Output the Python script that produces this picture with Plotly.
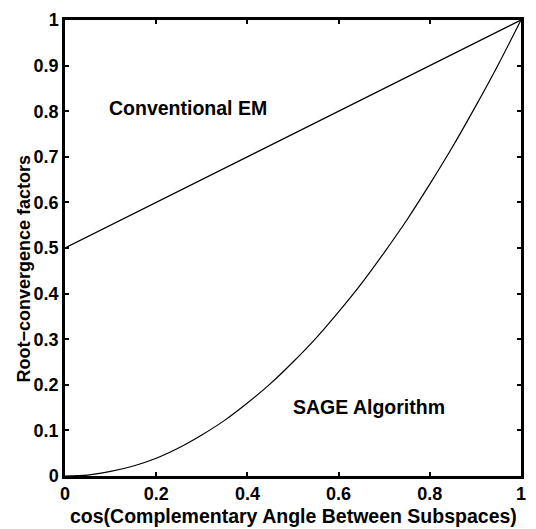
import plotly.graph_objects as go

# Conventional EM (straight line)
em_x = [0.0, 1.0]
em_y = [0.5, 1.0]

# SAGE algorithm
sage_x = [0, 0.05, 0.1, 0.15, 0.2, 0.25, 0.3, 0.35, 0.4, 0.45, 0.5, 0.55, 0.6, 0.65, 0.7, 0.75, 0.8, 0.85, 0.9, 0.95, 1.0]
sage_y = [0, 0.002, 0.01, 0.022, 0.039, 0.062, 0.09, 0.122, 0.16, 0.202, 0.25, 0.302, 0.36, 0.422, 0.49, 0.562, 0.64, 0.722, 0.81, 0.902, 1.0]

x_ticks = [0, 0.2, 0.4, 0.6, 0.8, 1]
y_ticks = [0, 0.1, 0.2, 0.3, 0.4, 0.5, 0.6, 0.7, 0.8, 0.9, 1]

font_fam = "Liberation Sans, Arial, Helvetica, sans-serif"

fig = go.Figure()
fig.add_trace(go.Scatter(x=em_x, y=em_y, mode="lines",
                         line=dict(color="black", width=1.2), showlegend=False))
fig.add_trace(go.Scatter(x=sage_x, y=sage_y, mode="lines", line_shape="spline",
                         line=dict(color="black", width=1.2), showlegend=False))

fig.add_annotation(x=0.27, y=0.807, text="<b>Conventional EM</b>", showarrow=False,
                   font=dict(family=font_fam, size=19.5, color="black"))
fig.add_annotation(x=0.667, y=0.151, text="<b>SAGE Algorithm</b>", showarrow=False,
                   font=dict(family=font_fam, size=19.5, color="black"))

# axis titles as paper annotations for precise placement
fig.add_annotation(x=0.5, y=0, xref="paper", yref="paper", yanchor="middle", yshift=-40,
                   text="<b>cos(Complementary Angle Between Subspaces)</b>", showarrow=False,
                   font=dict(family=font_fam, size=19.5, color="black"))
fig.add_annotation(x=0, y=0.455, xref="paper", yref="paper", xanchor="center", xshift=-41,
                   textangle=-90, text="<b>Root\u2212convergence factors</b>", showarrow=False,
                   font=dict(family=font_fam, size=18, color="black"))

axis_common = dict(showgrid=False, zeroline=False, showline=True, linecolor="black",
                   linewidth=2.5, mirror="ticks", ticks="inside", ticklen=4,
                   tickwidth=1.5, tickcolor="black",
                   tickfont=dict(family=font_fam, size=18, color="black"))

fig.update_xaxes(range=[0, 1], tickvals=x_ticks, ticktext=[f"<b>{t}</b>" for t in x_ticks],
                 **axis_common)
fig.update_yaxes(range=[0, 1], tickvals=y_ticks, ticktext=[f"<b>{t}</b>" for t in y_ticks],
                 **axis_common)

fig.update_layout(width=536, height=529, plot_bgcolor="white", paper_bgcolor="white",
                  margin=dict(l=65, r=10, t=11, b=53))

fig.write_html("out.html", config={"displayModeBar": False},
               post_script="document.body.style.margin='0';document.body.style.overflow='hidden';")
